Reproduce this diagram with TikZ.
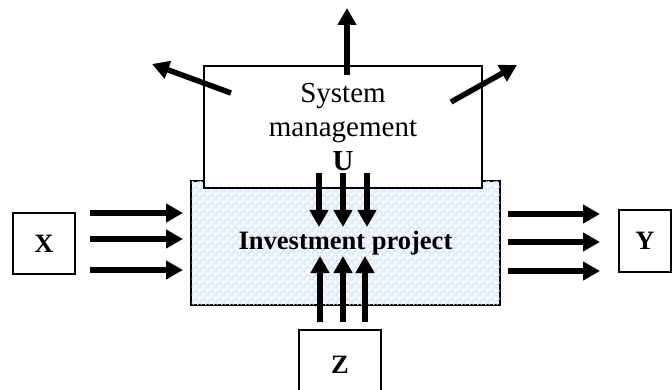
\documentclass[tikz,border=0pt]{standalone}
\usepackage{fontspec}
\setmainfont{Liberation Serif}
\usetikzlibrary{arrows.meta,patterns.meta}

\definecolor{weavebg}{RGB}{245,249,253}
\definecolor{weavefg}{RGB}{212,227,243}

% light woven fill of the project block
\tikzdeclarepattern{
  name=weave,
  type=uncolored,
  bounding box={(0,0) and (8pt,8pt)},
  tile size={(8pt,8pt)},
  code={
    \draw[line width=1.3pt] (0,0) -- (4pt,4pt) -- (8pt,0);
    \draw[line width=1.3pt] (0,8pt) -- (2pt,6pt);
    \draw[line width=1.3pt] (8pt,8pt) -- (6pt,6pt);
  }
}

\tikzset{
  box/.style={draw=black, line width=1.2pt, inner sep=0pt},
  flow/.style={line width=5.5pt, -{Triangle[length=17pt,width=18pt]}},
  plain/.style={font=\fontsize{29}{34}\selectfont},
  heavy/.style={font=\fontsize{26.5}{30}\selectfont\bfseries},
}

\begin{document}
\begin{tikzpicture}[x=1pt,y=-1pt]
\useasboundingbox (0,0) rectangle (672,390);
\clip (0,0) rectangle (672,390);

% project block under the management block
\node[box, fill=weavebg, minimum width=309pt, minimum height=124pt, heavy] (ip) at (345.5,243) {};
\fill[pattern={weave}, pattern color=weavefg] ([xshift=1pt,yshift=-1pt]ip.north west) rectangle ([xshift=-1pt,yshift=1pt]ip.south east);
\node[heavy] (iplabel) at (ip.center) {Investment project};

% management block
\node[box, fill=white, minimum width=278pt, minimum height=122pt, align=center, plain] (sm) at (343,127)
  {System\\management\\\textbf{U}};

% side boxes
\node[box, minimum width=62pt, minimum height=61pt, heavy] (X) at (44,243.5) {X};
\node[box, minimum width=52pt, minimum height=62pt, heavy] (Y) at (645,241) {Y};
\node[box, minimum width=82pt, minimum height=70pt, heavy] (Z) at (340,365) {Z};

% arrow end points
\foreach \n/\y in {1/213,2/239,3/270}{
  \coordinate (xs\n) at (90,\y);
  \coordinate (xe\n) at (183,\y);
}
\foreach \n/\y in {1/214,2/242,3/271}{
  \coordinate (ys\n) at (508,\y);
  \coordinate (ye\n) at (600,\y);
}
\foreach \n/\x in {1/319,2/343,3/367}{
  \coordinate (us\n) at (\x,173);
  \coordinate (ue\n) at (\x,227);
}
\foreach \n/\x in {1/320,2/343,3/365}{
  \coordinate (zs\n) at (\x,322);
  \coordinate (ze\n) at (\x,256);
}
\coordinate (o1s) at (231,93);  \coordinate (o1e) at (152,64);
\coordinate (o2s) at (347,75);  \coordinate (o2e) at (347,8);
\coordinate (o3s) at (451,102); \coordinate (o3e) at (517,65);

% flows
\foreach \n in {1,2,3}{
  \draw[flow] (xs\n) -- (xe\n);
  \draw[flow] (ys\n) -- (ye\n);
  \draw[flow] (us\n) -- (ue\n);
  \draw[flow] (zs\n) -- (ze\n);
  \draw[flow] (o\n s) -- (o\n e);
}
\end{tikzpicture}
\end{document}
